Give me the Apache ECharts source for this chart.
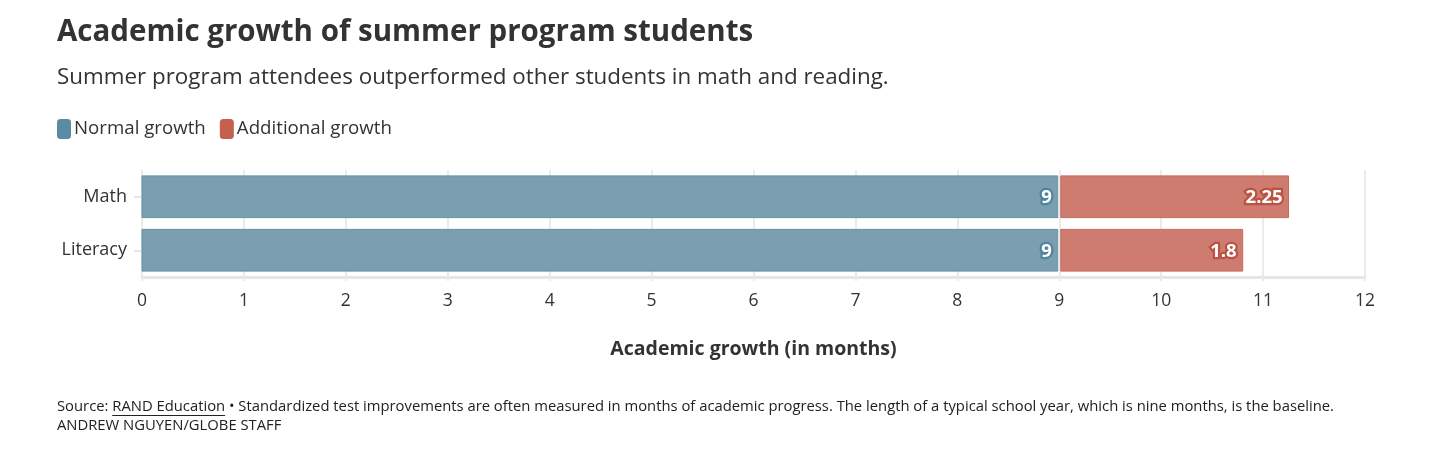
<!DOCTYPE html>
<html>
<head>
<meta charset="utf-8">
<script src="https://cdn.jsdelivr.net/npm/echarts@6/dist/echarts.min.js"></script>
<style>
  html, body { margin: 0; padding: 0; background: #fff; }
  #chart { width: 1456px; height: 457px; }
</style>
</head>
<body>
<div id="chart"></div>
<script>
// data
const categories = ['Math', 'Literacy'];
const normalGrowth = [9, 9];
const additionalGrowth = [2.25, 1.8];
const xTicks = { min: 0, max: 12, interval: 1 };

const FONT = 'Open Sans';
const TEXT = '#333333';

const normalStyle = { fill: '#7a9fb1', border: '#6690a6', legend: '#5b8ba3', halo: '#52839c' };
const addStyle = { fill: '#cf7c70', border: '#c66a5c', legend: '#c55f4e', halo: '#bb5242' };

// rows for the custom series: [start, end, categoryIndex, value]
const normalRows = normalGrowth.map((v, i) => [0, v, i, v]);
const addRows = additionalGrowth.map((v, i) => [normalGrowth[i], normalGrowth[i] + v, i, v]);

function makeRender(st) {
    return function (params, api) {
        const start = api.value(0), end = api.value(1), cat = api.value(2), val = api.value(3);
        const p0 = api.coord([start, cat]);
        const p1 = api.coord([end, cat]);
        const h = api.size([0, 1])[1] * 0.78;
        const x0 = p0[0] + (start > 0 ? 1.5 : 0);
        const x1 = p1[0] - (start > 0 ? 0 : 1.5);
        return {
            type: 'group',
            children: [{
                type: 'rect',
                shape: { x: x0, y: p0[1] - h / 2, width: x1 - x0, height: h },
                style: { fill: st.fill, stroke: st.border, lineWidth: 1 }
            }, {
                type: 'text',
                style: {
                    text: String(val),
                    x: x1 - 6, y: p0[1] + 1,
                    align: 'right', verticalAlign: 'middle',
                    fill: '#ffffff', font: 'bold 18.5px ' + FONT,
                    stroke: st.halo, lineWidth: 4.5
                }
            }]
        };
    };
}

// measure footer text so the source link can be underlined
const FOOT = '14.8px ' + FONT;
const ctx = document.createElement('canvas').getContext('2d');
ctx.font = FOOT;
const srcPrefixW = ctx.measureText('Source: ').width;
const srcLinkW = ctx.measureText('RAND Education').width;

const chart = echarts.init(document.getElementById('chart'), null, { renderer: 'canvas' });

const option = {
    animation: false,
    textStyle: { fontFamily: FONT, color: TEXT },
    title: [{
        text: 'Academic growth of summer program students',
        left: 52, top: 13,
        textStyle: { fontFamily: FONT, fontSize: 29.5, fontWeight: 'bold', color: TEXT }
    }, {
        text: 'Summer program attendees outperformed other students in math and reading.',
        left: 52, top: 62,
        textStyle: { fontFamily: FONT, fontSize: 22.4, fontWeight: 'normal', color: TEXT }
    }],
    legend: {
        left: 52, top: 114,
        itemWidth: 14, itemHeight: 20, itemGap: 14,
        icon: 'roundRect',
        textStyle: { fontFamily: FONT, fontSize: 18.7, color: TEXT, padding: [0, 0, 0, -2] },
        data: [
            { name: 'Normal growth', itemStyle: { color: normalStyle.legend } },
            { name: 'Additional growth', itemStyle: { color: addStyle.legend } }
        ]
    },
    grid: { left: 142, right: 91, top: 170, bottom: 180, containLabel: false },
    xAxis: {
        type: 'value',
        min: xTicks.min, max: xTicks.max, interval: xTicks.interval,
        name: 'Academic growth (in months)',
        nameLocation: 'middle', nameGap: 62,
        nameTextStyle: { fontFamily: FONT, fontSize: 19.5, fontWeight: 'bold', color: TEXT },
        axisLine: { show: true, lineStyle: { color: '#e6e6e6', width: 3 } },
        axisTick: { show: true, length: 4, lineStyle: { color: '#ebebeb', width: 2 } },
        axisLabel: { fontFamily: FONT, fontSize: 17.5, color: TEXT, margin: 15 },
        splitLine: { show: true, lineStyle: { color: '#ebebeb', width: 2 } }
    },
    yAxis: {
        type: 'category',
        data: categories,
        inverse: true,
        axisLine: { show: false },
        axisTick: { show: true, alignWithLabel: true, length: 8, lineStyle: { color: '#e6e6e6', width: 2 } },
        axisLabel: { fontFamily: FONT, fontSize: 18, color: TEXT, margin: 15 },
        splitLine: { show: false }
    },
    series: [{
        name: 'Normal growth',
        type: 'custom',
        renderItem: makeRender(normalStyle),
        itemStyle: { color: normalStyle.legend },
        encode: { x: [0, 1], y: 2 },
        data: normalRows
    }, {
        name: 'Additional growth',
        type: 'custom',
        renderItem: makeRender(addStyle),
        itemStyle: { color: addStyle.legend },
        encode: { x: [0, 1], y: 2 },
        data: addRows
    }],
    graphic: [{
        type: 'text', left: 57, top: 399,
        style: {
            text: 'Source: RAND Education \u2022 Standardized test improvements are often measured in months of academic progress. The length of a typical school year, which is nine months, is the baseline.',
            font: FOOT, fill: '#222'
        }
    }, {
        type: 'line',
        shape: { x1: 57 + srcPrefixW, y1: 415.5, x2: 57 + srcPrefixW + srcLinkW, y2: 415.5 },
        style: { stroke: '#222', lineWidth: 1 }
    }, {
        type: 'text', left: 57, top: 418,
        style: { text: 'ANDREW NGUYEN/GLOBE STAFF', font: FOOT, fill: '#222' }
    }]
};

chart.setOption(option);
window.addEventListener('resize', chart.resize);
</script>
</body>
</html>
